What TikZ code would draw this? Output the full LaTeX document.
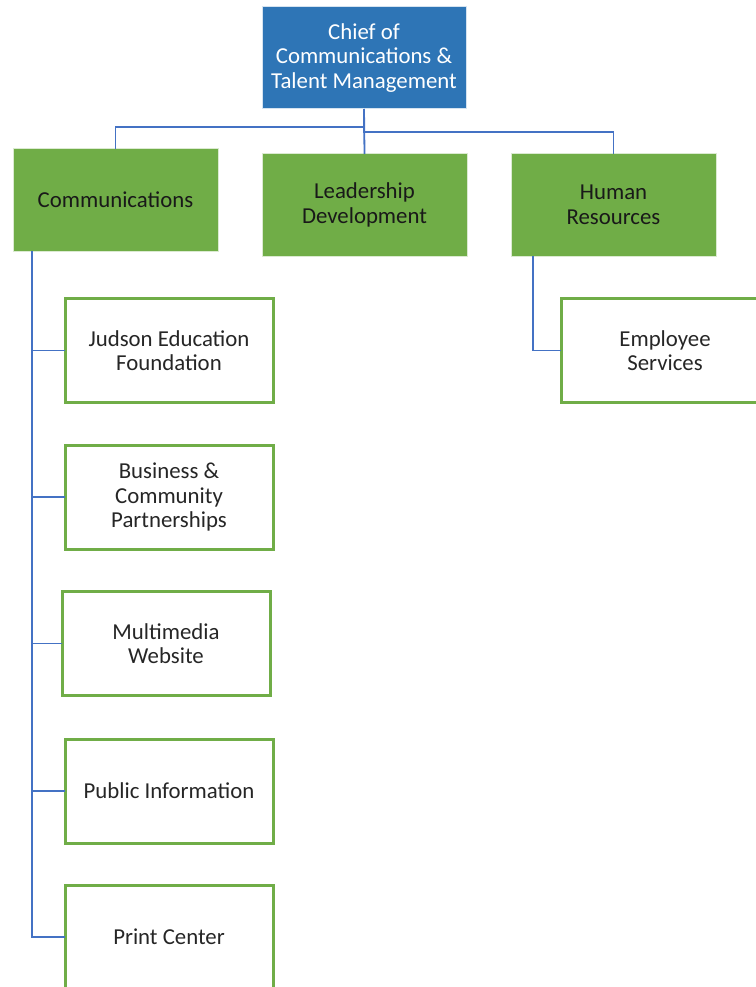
\documentclass[tikz,border=0pt]{standalone}
\usepackage{fontspec}
\setmainfont{Carlito}
\usepackage{xcolor}
\usepackage{tikz}

\definecolor{chiefblue}{HTML}{2E75B6}
\definecolor{unitgreen}{HTML}{70AD47}
\definecolor{linkblue}{HTML}{4472C4}

\begin{document}
\begin{tikzpicture}[x=1pt, y=-1pt,
    every node/.style={font=\fontsize{22.8}{24.5}\selectfont, align=center, inner sep=0pt, outer sep=0pt},
    chiefbox/.style={draw=white!80!chiefblue, line width=1pt, fill=chiefblue, text=white,
        minimum width=204pt, minimum height=102pt},
    unitbox/.style={draw=white!75!unitgreen, line width=1pt, fill=unitgreen, text=black!90,
        minimum width=205pt, minimum height=102pt},
    subbox/.style={draw=unitgreen, line width=3pt, fill=white, text=black!85,
        minimum width=208pt, minimum height=104pt},
    link/.style={draw=linkblue, line width=1.8pt},
]
        \useasboundingbox (0,0) rectangle (755,987);

        % Chief
        \node [chiefbox] (chief) at (364,58) {Chief of\\Communications \&\\Talent Management};

        % Units
        \node [unitbox] (comm) at (115.5,200) {Communications};
        \node [unitbox] (lead) at (364.5,205) {Leadership\\Development};
        \node [unitbox] (hr) at (613.5,205) {Human\\Resources};

        % Communications offices
        \node [subbox] (judson) at (169,350.5) {Judson Education\\Foundation};
        \node [subbox] (business) at (169,497) {Business \&\\Community\\Partnerships};
        \node [subbox] (multimedia) at (166,643.5) {Multimedia\\Website};
        \node [subbox] (public) at (169,791) {Public Information};
        \node [subbox] (print) at (169,937) {Print Center};

        % HR office
        \node [subbox] (employee) at (665,350.5) {Employee\\Services};

        \draw[link] (chief.south) -- ++(0,18) -| (comm.north);
        \draw[link] (chief.south) -- (lead.north);
        \draw[link] (chief.south) -- ++(0,23) -| (hr.north);

        \coordinate (commtrunk) at ([xshift=19pt]comm.south west);
        \draw[link] (commtrunk) |- (print.west);
        \foreach \office in {judson,business,multimedia,public}
            \draw[link] (commtrunk |- \office.west) -- (\office.west);

        \coordinate (hrtrunk) at ([xshift=22pt]hr.south west);
        \draw[link] (hrtrunk) |- (employee.west);
\end{tikzpicture}
\end{document}
